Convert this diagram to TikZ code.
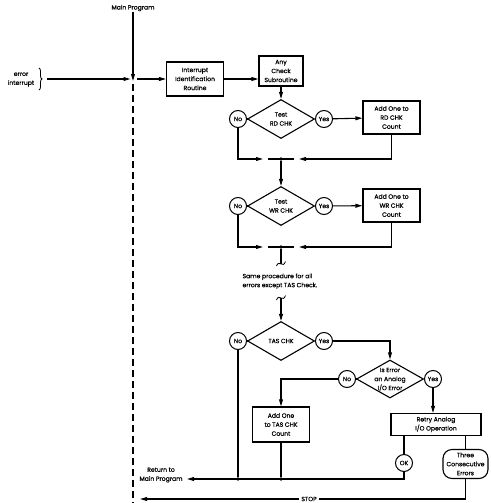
\documentclass[tikz,border=0pt]{standalone}
\usepackage{fontspec}
\setmainfont{Poppins}[UprightFeatures={FakeBold=0.6}]
\usetikzlibrary{arrows.meta,shapes.geometric,decorations.pathreplacing}
\begin{document}
\begin{tikzpicture}[x=1pt,y=-1pt,line width=1.1pt,
  every node/.style={font=\fontsize{6.1}{9}\selectfont,align=center,inner sep=0pt},
  arr/.style={-{Triangle[length=7pt,width=3.8pt]}},
  proc/.style={draw,line width=1.1pt,fill=white},
  decision/.style={draw,diamond,line width=1.1pt,minimum width=67,minimum height=39},
  answer/.style={draw,circle,line width=1pt,minimum size=17,fill=white},
  term/.style={draw,rounded corners=9pt,line width=1.1pt,minimum width=45,minimum height=29},
  dot/.style={circle,fill,minimum size=3.6pt,inner sep=0pt},
  breakmark/.style={line width=0.8pt}]
\useasboundingbox (0,0) rectangle (490,503);

% main program entry and the interrupt path
\node (main) at (133,8) {Main Program};
\coordinate (entry) at (133,79);
\draw[arr] (main.south) -- ([yshift=-2pt]entry);
\draw[dashed,dash pattern=on 7pt off 4pt] (133,84) -- (133,503);

\node (err) at (21,79.5) {error\\interrupt};
\draw[decorate,decoration={brace,amplitude=3pt},line width=0.8pt] (39,68) -- (39,90);
\coordinate (errstart) at (47,79);
\draw[arr] (errstart) -- ([xshift=-2.5pt]entry);

\node[proc,minimum width=57,minimum height=34] (iir) at (195,79) {Interrupt\\Identification\\Routine};
\draw[arr] ([xshift=4pt]entry) -- (iir.west);
\node[proc,minimum width=44,minimum height=30] (acs) at (281,71) {Any\\Check\\Subroutine};
\draw[arr] (iir.east) -- (iir.east -| acs.west);

% read check test
\node[decision] (rd) at (281,119) {};
\node (rdt) at (281,119) {Test\\RD CHK};
\draw[arr] (acs.south) -- (rd.north);
\node[answer] (rdno) at (238,119) {No};
\node[answer] (rdyes) at (324,119) {Yes};
\draw (rdno) -- (rd.west) (rd.east) -- (rdyes);
\node[proc,minimum width=57,minimum height=33] (rdbox) at (391.5,117.5) {Add One to\\RD CHK\\Count};
\draw[arr] (rdyes) -- (rdbox);

\coordinate (j1) at (281,159);
\coordinate (j1l) at (263,159);
\coordinate (j1r) at (299,159);
\draw[arr] (rdno.south) |- (j1l);
\draw[arr] (rdbox.south) |- (j1r);
\draw (268,159) -- (294,159);
\node[dot] (j1d) at (j1) {};

% write check test
\node[decision] (wr) at (281,206) {};
\node (wrt) at (281,206) {Test\\WR CHK};
\draw[arr] (j1d) -- (wr.north);
\node[answer] (wrno) at (238,206) {No};
\node[answer] (wryes) at (324,206) {Yes};
\draw (wrno) -- (wr.west) (wr.east) -- (wryes);
\node[proc,minimum width=57,minimum height=33] (wrbox) at (391.5,205.5) {Add One to\\WR CHK\\Count};
\draw[arr] (wryes) -- (wrbox);

\coordinate (j2) at (281,247);
\coordinate (j2l) at (263,247);
\coordinate (j2r) at (299,247);
\draw[arr] (wrno.south) |- (j2l);
\draw[arr] (wrbox.south) |- (j2r);
\draw (268,247) -- (294,247);
\node[dot] (j2d) at (j2) {};

% break in the flow
\coordinate (br1) at (281,264);
\draw (j2d) -- (br1);
\draw[breakmark] (276.5,266) .. controls (279,259) and (283,269) .. (285.5,261.5);
\node[anchor=north west,align=left] (same) at (242,273) {Same procedure for all\\errors except TAS Check.};
\coordinate (br2) at (281,298);
\draw[breakmark] (276.5,300) .. controls (279,293) and (283,303) .. (285.5,295.5);

% TAS check test
\node[decision] (tas) at (281,341) {};
\node (tast) at (281,341) {TAS CHK};
\draw[arr] (br2) -- (tas.north);
\node[answer] (tasno) at (238,341) {No};
\node[answer] (tasyes) at (324,341) {Yes};
\draw (tasno) -- (tas.west) (tas.east) -- (tasyes);

\node[decision,minimum height=38] (ise) at (390,379) {};
\node (iset) at (390,379.5) {Is Error\\an Analog\\I/O Error};
\draw[arr] (tasyes.east) -| (ise.north);
\node[answer] (iseno) at (347,379) {No};
\node[answer] (iseyes) at (433,379) {Yes};
\draw (iseno) -- (ise.west) (ise.east) -- (iseyes);

\node[proc,minimum width=57,minimum height=35] (tasbox) at (281,424.5) {Add One\\to TAS CHK\\Count};
\draw[arr] (iseno.west) -| (tasbox.north);
\node[proc,minimum width=90,minimum height=22] (retry) at (436,424.5) {Retry Analog\\I/O Operation};
\draw[arr] (iseyes.south) -- (iseyes.south |- retry.north);

\node[answer] (ok) at (404,463) {OK};
\node[term] (three) at (465.5,464) {Three\\Consecutive\\Errors};
\draw (retry.south -| ok) -- (ok.north);
\draw (retry.south -| three) -- (three.north);

% return and stop paths
\node (ret) at (161,475) {Return to\\Main Program};
\coordinate (retend) at (187,479);
\draw[arr] (ok.south) |- (retend);
\node[dot] (rd1) at (238,479) {};
\node[dot] (rd2) at (281,479) {};
\draw (tasno.south) -- (rd1);
\draw (tasbox.south) -- (rd2);

\coordinate (stopend) at (140,499);
\node[fill=white,inner xsep=1.5pt] (stop) at (309,499) {STOP};
\draw (three.south) |- (stop.east);
\draw[arr] (stop.west) -- (stopend);
\end{tikzpicture}
\end{document}
